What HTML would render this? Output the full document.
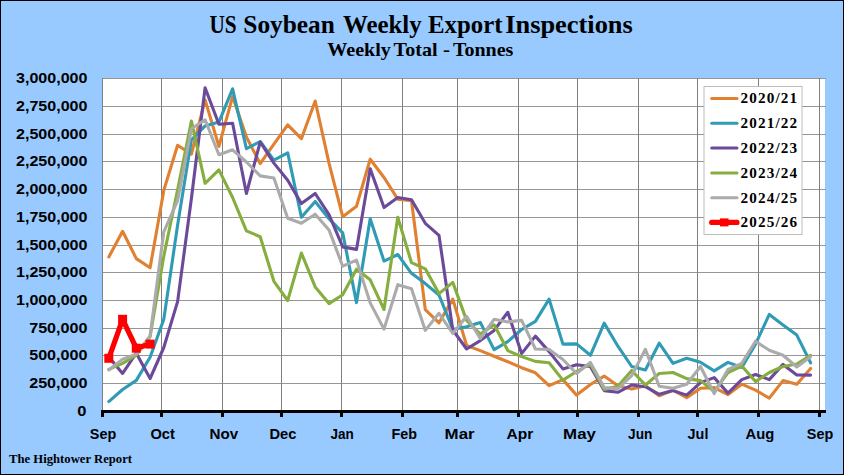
<!DOCTYPE html>
<html><head><meta charset="utf-8"><title>US Soybean Weekly Export Inspections</title>
<style>
html,body{margin:0;padding:0;background:#98CAFF;}
body{width:844px;height:475px;overflow:hidden;font-family:"Liberation Sans",sans-serif;}
svg{display:block}
.t{font-family:"Liberation Serif",serif;font-weight:bold;fill:#000}
.a{font-family:"Liberation Sans",sans-serif;font-weight:bold;fill:#000}
</style></head><body>
<svg width="844" height="475" viewBox="0 0 844 475">
<rect x="0" y="0" width="844" height="475" fill="#98CAFF"/>
<rect x="0.5" y="0.5" width="843" height="474" fill="none" stroke="#000" stroke-width="1"/>
<rect x="102" y="78" width="723" height="333" fill="#fff"/>
<g stroke="#969696" stroke-width="1" fill="none" shape-rendering="crispEdges">
<line x1="102" y1="78.5" x2="825.7" y2="78.5"/>
<line x1="102" y1="106.5" x2="825.7" y2="106.5"/>
<line x1="102" y1="134.5" x2="825.7" y2="134.5"/>
<line x1="102" y1="161.5" x2="825.7" y2="161.5"/>
<line x1="102" y1="189.5" x2="825.7" y2="189.5"/>
<line x1="102" y1="217.5" x2="825.7" y2="217.5"/>
<line x1="102" y1="245.5" x2="825.7" y2="245.5"/>
<line x1="102" y1="272.5" x2="825.7" y2="272.5"/>
<line x1="102" y1="300.5" x2="825.7" y2="300.5"/>
<line x1="102" y1="328.5" x2="825.7" y2="328.5"/>
<line x1="102" y1="355.5" x2="825.7" y2="355.5"/>
<line x1="102" y1="383.5" x2="825.7" y2="383.5"/>
</g>
<g stroke="#7f7f7f" stroke-width="1" fill="none" shape-rendering="crispEdges">
<line x1="102.5" y1="78" x2="102.5" y2="411"/>
<line x1="161.5" y1="78" x2="161.5" y2="411"/>
<line x1="222.5" y1="78" x2="222.5" y2="411"/>
<line x1="281.5" y1="78" x2="281.5" y2="411"/>
<line x1="341.5" y1="78" x2="341.5" y2="411"/>
<line x1="402.5" y1="78" x2="402.5" y2="411"/>
<line x1="457.5" y1="78" x2="457.5" y2="411"/>
<line x1="518.5" y1="78" x2="518.5" y2="411"/>
<line x1="577.5" y1="78" x2="577.5" y2="411"/>
<line x1="638.5" y1="78" x2="638.5" y2="411"/>
<line x1="697.5" y1="78" x2="697.5" y2="411"/>
<line x1="758.5" y1="78" x2="758.5" y2="411"/>
<line x1="819.5" y1="78" x2="819.5" y2="411"/>
</g>
<polyline points="108.8,257.0 122.6,231.3 136.3,258.6 150.1,267.8 163.8,190.4 177.6,145.3 191.4,154.2 205.1,99.9 218.9,146.4 232.6,96.6 246.4,137.0 260.2,163.6 273.9,144.2 287.7,124.8 301.4,138.7 315.2,101.0 329.0,163.1 342.7,216.7 356.5,206.3 370.2,159.2 384.0,177.5 397.8,199.2 411.5,200.7 425.3,309.6 439.0,322.8 452.8,299.1 466.6,345.5 480.3,350.6 494.1,356.3 507.8,361.7 521.6,367.7 535.4,372.8 549.1,385.7 562.9,379.6 576.6,395.1 590.4,384.5 604.2,376.1 617.9,385.7 631.7,389.1 645.4,385.7 659.2,395.7 673.0,390.2 686.7,397.7 700.5,388.2 714.2,387.6 728.0,394.6 741.8,384.2 755.5,390.2 769.3,398.1 783.0,380.6 796.8,384.2 810.6,368.5" fill="none" stroke="#E08030" stroke-width="3.1" stroke-linejoin="round" stroke-linecap="round"/>
<polyline points="108.8,401.6 122.6,389.5 136.3,380.4 150.1,357.3 163.8,319.3 177.6,225.1 191.4,139.8 205.1,125.9 218.9,122.1 232.6,88.8 246.4,148.7 260.2,141.5 273.9,160.2 287.7,152.8 301.4,217.3 315.2,201.5 329.0,218.7 342.7,232.9 356.5,302.6 370.2,218.7 384.0,261.1 397.8,254.5 411.5,273.3 425.3,283.6 439.0,295.0 452.8,329.4 466.6,326.8 480.3,322.4 494.1,349.6 507.8,341.6 521.6,329.5 535.4,321.4 549.1,299.1 562.9,344.1 576.6,343.9 590.4,355.3 604.2,323.1 617.9,346.2 631.7,366.5 645.4,370.0 659.2,343.2 673.0,363.4 686.7,358.2 700.5,362.2 714.2,370.9 728.0,362.4 741.8,367.5 755.5,344.2 769.3,314.4 783.0,325.0 796.8,335.1 810.6,362.8" fill="none" stroke="#2F9BB5" stroke-width="3.1" stroke-linejoin="round" stroke-linecap="round"/>
<polyline points="108.8,357.0 122.6,373.4 136.3,353.2 150.1,378.5 163.8,347.5 177.6,301.6 191.4,198.5 205.1,87.7 218.9,124.3 232.6,123.2 246.4,193.5 260.2,142.0 273.9,163.1 287.7,180.3 301.4,203.6 315.2,193.5 329.0,214.7 342.7,246.9 356.5,249.4 370.2,168.7 384.0,207.6 397.8,197.5 411.5,199.8 425.3,223.3 439.0,235.4 452.8,330.0 466.6,349.0 480.3,340.6 494.1,330.4 507.8,312.3 521.6,353.6 535.4,336.1 549.1,351.6 562.9,368.9 576.6,364.8 590.4,366.5 604.2,390.6 617.9,392.3 631.7,385.0 645.4,386.7 659.2,394.3 673.0,390.6 686.7,395.1 700.5,382.6 714.2,377.6 728.0,393.1 741.8,379.6 755.5,374.5 769.3,379.6 783.0,364.4 796.8,374.9 810.6,375.1" fill="none" stroke="#6B4A9A" stroke-width="3.1" stroke-linejoin="round" stroke-linecap="round"/>
<polyline points="108.8,369.4 122.6,363.3 136.3,355.2 150.1,336.5 163.8,256.1 177.6,189.7 191.4,121.0 205.1,183.3 218.9,169.9 232.6,197.5 246.4,230.9 260.2,236.7 273.9,281.3 287.7,300.5 301.4,253.0 315.2,286.9 329.0,303.6 342.7,294.8 356.5,269.2 370.2,279.8 384.0,309.5 397.8,217.3 411.5,262.7 425.3,268.8 439.0,293.6 452.8,282.4 466.6,320.4 480.3,334.1 494.1,324.8 507.8,350.6 521.6,356.6 535.4,361.4 549.1,362.7 562.9,380.1 576.6,371.5 590.4,364.0 604.2,389.6 617.9,386.2 631.7,370.5 645.4,385.0 659.2,373.5 673.0,372.5 686.7,378.6 700.5,380.6 714.2,391.6 728.0,372.5 741.8,366.0 755.5,381.6 769.3,372.5 783.0,366.5 796.8,364.0 810.6,355.3" fill="none" stroke="#86AE3E" stroke-width="3.1" stroke-linejoin="round" stroke-linecap="round"/>
<polyline points="108.8,369.9 122.6,359.3 136.3,354.2 150.1,336.0 163.8,231.8 177.6,200.7 191.4,128.7 205.1,119.8 218.9,154.7 232.6,149.8 246.4,162.0 260.2,175.9 273.9,178.0 287.7,218.3 301.4,223.3 315.2,214.2 329.0,229.9 342.7,266.2 356.5,260.1 370.2,302.9 384.0,329.1 397.8,284.7 411.5,288.8 425.3,330.4 439.0,313.3 452.8,333.5 466.6,316.3 480.3,338.5 494.1,319.3 507.8,321.9 521.6,320.4 535.4,349.0 549.1,349.4 562.9,359.5 576.6,373.5 590.4,362.4 604.2,387.6 617.9,388.6 631.7,375.6 645.4,349.3 659.2,386.2 673.0,388.2 686.7,384.3 700.5,366.5 714.2,393.6 728.0,369.5 741.8,363.4 755.5,341.2 769.3,350.3 783.0,355.3 796.8,367.0 810.6,356.7" fill="none" stroke="#ABABAB" stroke-width="3.1" stroke-linejoin="round" stroke-linecap="round"/>
<polyline points="108.8,358.3 122.6,319.3 136.3,348.2 150.1,344.1" fill="none" stroke="#FF0000" stroke-width="5.2" stroke-linejoin="round" stroke-linecap="round"/>
<rect x="104.3" y="353.8" width="9" height="9" fill="#FF0000"/>
<rect x="118.1" y="314.8" width="9" height="9" fill="#FF0000"/>
<rect x="131.8" y="343.7" width="9" height="9" fill="#FF0000"/>
<rect x="145.6" y="339.6" width="9" height="9" fill="#FF0000"/>
<g fill="#000" shape-rendering="crispEdges">
<rect x="101" y="410" width="724.5" height="3"/>
<rect x="101" y="410" width="3" height="7"/>
<rect x="160" y="410" width="3" height="7"/>
<rect x="221" y="410" width="3" height="7"/>
<rect x="280" y="410" width="3" height="7"/>
<rect x="340" y="410" width="3" height="7"/>
<rect x="401" y="410" width="3" height="7"/>
<rect x="456" y="410" width="3" height="7"/>
<rect x="517" y="410" width="3" height="7"/>
<rect x="576" y="410" width="3" height="7"/>
<rect x="637" y="410" width="3" height="7"/>
<rect x="696" y="410" width="3" height="7"/>
<rect x="757" y="410" width="3" height="7"/>
<rect x="818" y="410" width="3" height="7"/>
</g>
<text class="a" x="16.0" y="83.2" font-size="14.5" textLength="71.5" lengthAdjust="spacingAndGlyphs">3,000,000</text>
<text class="a" x="16.0" y="111.2" font-size="14.5" textLength="71.5" lengthAdjust="spacingAndGlyphs">2,750,000</text>
<text class="a" x="16.0" y="139.2" font-size="14.5" textLength="71.5" lengthAdjust="spacingAndGlyphs">2,500,000</text>
<text class="a" x="16.0" y="166.2" font-size="14.5" textLength="71.5" lengthAdjust="spacingAndGlyphs">2,250,000</text>
<text class="a" x="16.0" y="194.2" font-size="14.5" textLength="71.5" lengthAdjust="spacingAndGlyphs">2,000,000</text>
<text class="a" x="16.0" y="222.2" font-size="14.5" textLength="71.5" lengthAdjust="spacingAndGlyphs">1,750,000</text>
<text class="a" x="16.0" y="250.2" font-size="14.5" textLength="71.5" lengthAdjust="spacingAndGlyphs">1,500,000</text>
<text class="a" x="16.0" y="277.2" font-size="14.5" textLength="71.5" lengthAdjust="spacingAndGlyphs">1,250,000</text>
<text class="a" x="16.0" y="305.2" font-size="14.5" textLength="71.5" lengthAdjust="spacingAndGlyphs">1,000,000</text>
<text class="a" x="29.2" y="333.2" font-size="14.5" textLength="58.3" lengthAdjust="spacingAndGlyphs">750,000</text>
<text class="a" x="29.2" y="360.2" font-size="14.5" textLength="58.3" lengthAdjust="spacingAndGlyphs">500,000</text>
<text class="a" x="29.2" y="388.2" font-size="14.5" textLength="58.3" lengthAdjust="spacingAndGlyphs">250,000</text>
<text class="a" x="77.3" y="416.2" font-size="14.5" textLength="9.2" lengthAdjust="spacingAndGlyphs">0</text>
<text class="a" x="89.8" y="438.5" font-size="15" textLength="26.4" lengthAdjust="spacingAndGlyphs">Sep</text>
<text class="a" x="150.4" y="438.5" font-size="15" textLength="24.5" lengthAdjust="spacingAndGlyphs">Oct</text>
<text class="a" x="209.5" y="438.5" font-size="15" textLength="28.7" lengthAdjust="spacingAndGlyphs">Nov</text>
<text class="a" x="269.4" y="438.5" font-size="15" textLength="26.9" lengthAdjust="spacingAndGlyphs">Dec</text>
<text class="a" x="330.4" y="438.5" font-size="15" textLength="23.3" lengthAdjust="spacingAndGlyphs">Jan</text>
<text class="a" x="391.6" y="438.5" font-size="15" textLength="25.5" lengthAdjust="spacingAndGlyphs">Feb</text>
<text class="a" x="444.6" y="438.5" font-size="15" textLength="30.0" lengthAdjust="spacingAndGlyphs">Mar</text>
<text class="a" x="506.6" y="438.5" font-size="15" textLength="26.8" lengthAdjust="spacingAndGlyphs">Apr</text>
<text class="a" x="563.1" y="438.5" font-size="15" textLength="32.8" lengthAdjust="spacingAndGlyphs">May</text>
<text class="a" x="628.1" y="438.5" font-size="15" textLength="24.3" lengthAdjust="spacingAndGlyphs">Jun</text>
<text class="a" x="687.6" y="438.5" font-size="15" textLength="20.8" lengthAdjust="spacingAndGlyphs">Jul</text>
<text class="a" x="745.6" y="438.5" font-size="15" textLength="28.8" lengthAdjust="spacingAndGlyphs">Aug</text>
<text class="a" x="806.8" y="438.5" font-size="15" textLength="26.4" lengthAdjust="spacingAndGlyphs">Sep</text>
<text class="t" x="209.4" y="32.6" font-size="26" textLength="27.2" lengthAdjust="spacingAndGlyphs">US</text>
<text class="t" x="243.3" y="32.6" font-size="26" textLength="91.6" lengthAdjust="spacingAndGlyphs">Soybean</text>
<text class="t" x="342.9" y="32.6" font-size="26" textLength="78.8" lengthAdjust="spacingAndGlyphs">Weekly</text>
<text class="t" x="428.0" y="32.6" font-size="26" textLength="74.4" lengthAdjust="spacingAndGlyphs">Export</text>
<text class="t" x="505.2" y="32.6" font-size="26" textLength="127.6" lengthAdjust="spacingAndGlyphs">Inspections</text>
<text class="t" x="327.3" y="55.7" font-size="19.5" textLength="63.6" lengthAdjust="spacingAndGlyphs">Weekly</text>
<text class="t" x="393.6" y="55.7" font-size="19.5" textLength="44.0" lengthAdjust="spacingAndGlyphs">Total</text>
<text class="t" x="442.9" y="55.7" font-size="19.5" textLength="7.0" lengthAdjust="spacingAndGlyphs">-</text>
<text class="t" x="452.9" y="55.7" font-size="19.5" textLength="60.5" lengthAdjust="spacingAndGlyphs">Tonnes</text>
<text class="t" x="9" y="462.5" font-size="12" textLength="123" lengthAdjust="spacingAndGlyphs">The Hightower Report</text>
<rect x="704" y="86.5" width="98" height="148" fill="#fff" stroke="#bcbcbc" stroke-width="1"/>
<line x1="711.7" y1="98.5" x2="737" y2="98.5" stroke="#E08030" stroke-width="3.0" stroke-linecap="round"/>
<text class="t" x="740.4" y="103.4" font-size="15.2" textLength="56.8" lengthAdjust="spacing">2020/21</text>
<line x1="711.7" y1="123.2" x2="737" y2="123.2" stroke="#2F9BB5" stroke-width="3.0" stroke-linecap="round"/>
<text class="t" x="740.4" y="128.2" font-size="15.2" textLength="56.8" lengthAdjust="spacing">2021/22</text>
<line x1="711.7" y1="148.1" x2="737" y2="148.1" stroke="#6B4A9A" stroke-width="3.0" stroke-linecap="round"/>
<text class="t" x="740.4" y="153.0" font-size="15.2" textLength="56.8" lengthAdjust="spacing">2022/23</text>
<line x1="711.7" y1="172.9" x2="737" y2="172.9" stroke="#86AE3E" stroke-width="3.0" stroke-linecap="round"/>
<text class="t" x="740.4" y="177.8" font-size="15.2" textLength="56.8" lengthAdjust="spacing">2023/24</text>
<line x1="711.7" y1="197.7" x2="737" y2="197.7" stroke="#ABABAB" stroke-width="3.0" stroke-linecap="round"/>
<text class="t" x="740.4" y="202.6" font-size="15.2" textLength="56.8" lengthAdjust="spacing">2024/25</text>
<line x1="711.7" y1="222.4" x2="737" y2="222.4" stroke="#FF0000" stroke-width="5.2" stroke-linecap="round"/>
<rect x="720" y="218.4" width="8.5" height="8" fill="#FF0000"/>
<text class="t" x="740.4" y="227.3" font-size="15.2" textLength="56.8" lengthAdjust="spacing">2025/26</text>
</svg>
</body></html>
